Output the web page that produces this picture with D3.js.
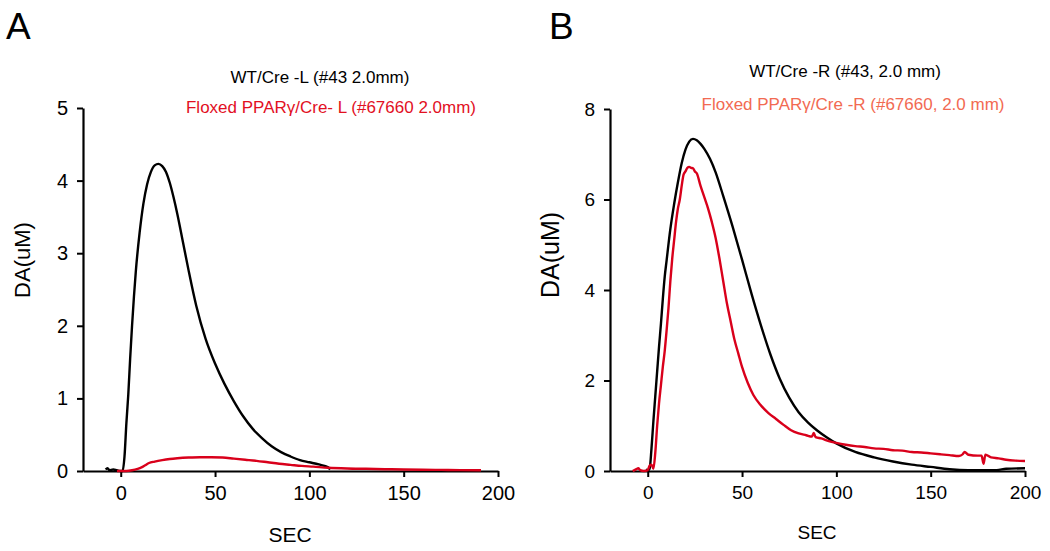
<!DOCTYPE html>
<html><head><meta charset="utf-8">
<script src="https://cdn.jsdelivr.net/npm/d3@7"></script>
<style>body{margin:0;background:#fff}svg{display:block;font-family:Arial,"Liberation Sans",sans-serif}</style>
</head><body><svg id="c" width="1050" height="551"></svg>
<script>
// ---- data ----
const xTicks = [0, 50, 100, 150, 200];
const yTicksA = [0, 1, 2, 3, 4, 5];
const yTicksB = [0, 2, 4, 6, 8];

const wtA_t = [-8,-7,-6,-4,-2,0,1,2,3,4,5,6,7,8,10,12,14,16,18,20,22,24,26,28,30,33,36,40,45,50,55,60,65,70,75,80,85,90,95,100,105,110,111];
const wtA_v = [0.02,0.04,0.01,0.02,0.01,0.0,0.0,0.2,0.66,1.05,1.55,2.0,2.4,2.75,3.28,3.68,3.95,4.12,4.21,4.23,4.2,4.12,3.97,3.77,3.54,3.15,2.76,2.28,1.82,1.48,1.2,0.96,0.75,0.58,0.45,0.34,0.26,0.2,0.15,0.12,0.09,0.05,0.02];

const flA_t = [-2,0,3,6,9,11,13,15,18,22,26,30,36,42,48,54,60,66,72,78,84,90,96,102,110,120,130,140,150,160,170,180,191];
const flA_v = [0,0,0.0,0.01,0.03,0.05,0.08,0.11,0.13,0.15,0.165,0.175,0.185,0.19,0.19,0.185,0.17,0.155,0.14,0.12,0.1,0.085,0.07,0.06,0.045,0.035,0.03,0.025,0.02,0.018,0.015,0.012,0.01];

const wtB_t = [-1,0,1,2,3,4,5,6,7,8,9,10,12,14,16,18,20,22,24,26,28,30,33,36,40,45,50,55,60,65,70,75,80,85,90,95,100,110,120,130,140,150,160,170,180,185,190,200];
const wtB_v = [0.03,0.02,0.05,0.5,1.1,1.65,2.2,2.75,3.25,3.8,4.29,4.65,5.35,5.9,6.38,6.8,7.1,7.28,7.34,7.31,7.23,7.12,6.9,6.6,6.08,5.4,4.67,3.92,3.22,2.58,2.04,1.62,1.3,1.07,0.89,0.74,0.61,0.42,0.3,0.21,0.14,0.09,0.04,0.02,0.02,0.02,0.05,0.06];

const flB_t = [-8,-6,-5,-4,-2,0,1,2,3,4,5,6,7,8,9,10,11,12,13,14,15,16,17,18,19,20,21,22,23,24,25,26,28,30,32,34,36,38,40,42,44,46,48,50,53,56,60,64,68,72,76,80,84,87,88,89,92,96,100,105,110,115,120,125,130,135,140,145,150,155,160,165,167,168,170,175,177,178,179,182,186,190,195,200];
const flB_v = [0.0,0.04,0.06,0.02,0.0,0.02,0.12,0.14,0.05,0.4,1.0,1.5,1.9,2.3,2.65,3.1,3.6,4.2,4.7,5.1,5.5,5.8,6.0,6.3,6.55,6.62,6.7,6.72,6.7,6.69,6.62,6.58,6.3,6.05,5.8,5.5,5.15,4.7,4.2,3.7,3.3,2.9,2.6,2.3,1.95,1.68,1.45,1.28,1.15,1.02,0.9,0.83,0.79,0.76,0.84,0.75,0.72,0.66,0.62,0.58,0.55,0.53,0.5,0.49,0.46,0.45,0.42,0.41,0.39,0.37,0.35,0.33,0.37,0.42,0.36,0.34,0.34,0.16,0.36,0.3,0.28,0.25,0.23,0.22];

// ---- drawing ----
const svg = d3.select("#c");
const RED = "#d9001b";

function panel(o) {
  const x = d3.scaleLinear().domain([-20, 200]).range([o.x0, o.x1]);
  const y = d3.scaleLinear().domain([0, o.ymax]).range([471, o.ytop]);
  const g = svg.append("g");
  const ax = g.append("g").attr("transform", "translate(0,471)")
    .call(d3.axisBottom(x).tickValues(xTicks).tickFormat(d3.format("d")).tickSize(6).tickSizeOuter(0).tickPadding(9));
  const ay = g.append("g").attr("transform", `translate(${o.x0},0)`)
    .call(d3.axisLeft(y).tickValues(o.yTicks).tickFormat(d3.format("d")).tickSize(6).tickSizeOuter(0).tickPadding(o.ypad));
  [ax, ay].forEach(a => {
    a.select(".domain").attr("stroke", "#000").attr("stroke-width", 2.2);
    a.selectAll(".tick line").attr("stroke", "#000").attr("stroke-width", 2);
    a.selectAll(".tick text").attr("fill", "#000").style("font-size", o.tfs + "px")
      .style("font-family", "Arial, 'Liberation Sans', sans-serif");
  });
  const line = d3.line().x(d => x(d[0])).y(d => y(d[1])).curve(d3.curveMonotoneX);
  o.series.forEach(s => {
    g.append("path").datum(d3.zip(s.t, s.v)).attr("d", line)
      .attr("fill", "none").attr("stroke", s.color).attr("stroke-width", 2.4)
      .attr("stroke-linejoin", "round");
  });
  // labels
  g.append("text").attr("x", o.letterX).attr("y", 39).text(o.letter)
    .style("font-size", "37px").attr("fill", "#000");
  g.append("text").attr("transform", `translate(${o.ylx},${o.yly}) rotate(-90)`)
    .attr("text-anchor", "middle").attr("dy", "0.35em").text("DA(uM)")
    .style("font-size", o.ylfs + "px").attr("fill", "#000");
  g.append("text").attr("x", o.sx).attr("y", o.sy).attr("text-anchor", "middle")
    .text("SEC").style("font-size", o.sfs + "px").attr("fill", "#000");
  g.append("text").attr("x", o.t1x).attr("y", o.t1y).attr("text-anchor", "middle")
    .text(o.t1).style("font-size", "17px").attr("fill", "#000");
  g.append("text").attr("x", o.t2x).attr("y", o.t2y).attr("text-anchor", "middle")
    .text(o.t2).style("font-size", "17px").attr("fill", o.t2c);
}

panel({
  x0: 83, x1: 498, ymax: 5, ytop: 108, yTicks: yTicksA, ypad: 9, tfs: 20,
  letter: "A", letterX: 6, ylx: 22, yly: 260, ylfs: 22, sx: 290, sy: 542, sfs: 21,
  t1: "WT/Cre -L (#43 2.0mm)", t1x: 320, t1y: 83,
  t2: "Floxed PPARγ/Cre- L (#67660 2.0mm)", t2x: 331, t2y: 113, t2c: "#e2101f",
  series: [{t: wtA_t, v: wtA_v, color: "#000"}, {t: flA_t, v: flA_v, color: RED}]
});
panel({
  x0: 610, x1: 1025, ymax: 8, ytop: 109, yTicks: yTicksB, ypad: 9, tfs: 19,
  letter: "B", letterX: 549, ylx: 550, yly: 255, ylfs: 25, sx: 817, sy: 539, sfs: 19,
  t1: "WT/Cre -R (#43, 2.0 mm)", t1x: 845, t1y: 77,
  t2: "Floxed PPARγ/Cre -R (#67660, 2.0 mm)", t2x: 853, t2y: 110, t2c: "#f26a52",
  series: [{t: wtB_t, v: wtB_v, color: "#000"}, {t: flB_t, v: flB_v, color: RED}]
});
</script></body></html>
